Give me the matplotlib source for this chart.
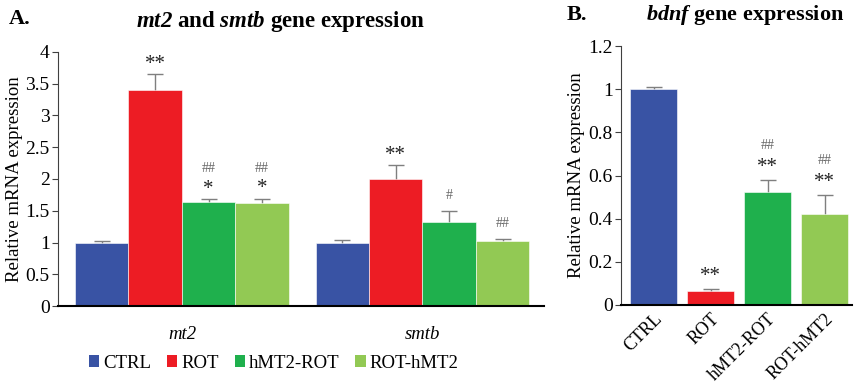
import matplotlib
matplotlib.use("Agg")
import matplotlib.pyplot as plt
import numpy as np
from matplotlib.patches import Patch
from matplotlib.ticker import FormatStrFormatter, MultipleLocator

plt.rcParams['font.family'] = ['Liberation Serif', 'DejaVu Serif']
plt.rcParams['mathtext.fontset'] = 'custom'
plt.rcParams['mathtext.rm'] = 'Liberation Serif'
plt.rcParams['mathtext.it'] = 'Liberation Serif:italic'
plt.rcParams['mathtext.bf'] = 'Liberation Serif:bold'
plt.rcParams['mathtext.bfit'] = 'Liberation Serif:italic:bold'

# ---- data ----
groups = ['CTRL', 'ROT', 'hMT2-ROT', 'ROT-hMT2']
genes_a = ['mt2', 'smtb']
mt2_vals = [1.00, 3.40, 1.64, 1.62]
mt2_err = [0.03, 0.25, 0.04, 0.07]
smtb_vals = [1.00, 2.00, 1.33, 1.02]
smtb_err = [0.04, 0.22, 0.17, 0.04]
mt2_star = ['', '**', '*', '*']
mt2_hash = ['', '', '##', '##']
smtb_star = ['', '**', '', '']
smtb_hash = ['', '', '#', '##']

bdnf_vals = [1.00, 0.065, 0.525, 0.423]
bdnf_err = [0.01, 0.007, 0.053, 0.086]
bdnf_star = ['', '**', '**', '**']
bdnf_hash = ['', '', '##', '##']

colors = ['#3953A4', '#ED1C24', '#1FB04D', '#92C954']
err_color = '#7f7f7f'

fig = plt.figure(figsize=(8.58, 3.87), dpi=100)
axA = fig.add_axes([0.0676, 0.209, 0.5664, 0.657])
axB = fig.add_axes([0.7238, 0.212, 0.2692, 0.669])

def style(ax):
    for s in ['top', 'right']:
        ax.spines[s].set_visible(False)
    ax.spines['left'].set_color('#404040')
    ax.spines['left'].set_linewidth(0.8)
    ax.spines['bottom'].set_color('black')
    ax.spines['bottom'].set_linewidth(1.5)
    ax.tick_params(axis='y', labelsize=14, length=4, width=0.8, color='#404040', pad=2)
    ax.tick_params(axis='x', length=0)
    ax.yaxis.set_major_formatter(FormatStrFormatter('%g'))

def annotate(ax, x, top, star, hsh, star_off, hash_only_off, hash_above):
    if star:
        ax.annotate(star, (x, top), xytext=(0, star_off), textcoords='offset points',
                    ha='center', va='center', fontsize=15, color='#222222')
        if hsh:
            ax.annotate(hsh, (x, top), xytext=(0, star_off + hash_above), textcoords='offset points',
                        ha='center', va='center', fontsize=10, color='#666666')
    elif hsh:
        ax.annotate(hsh, (x, top), xytext=(0, hash_only_off), textcoords='offset points',
                    ha='center', va='center', fontsize=10, color='#666666')

# ---- panel A ----
style(axA)
w = 0.222
xA = np.arange(len(genes_a))
for i in range(len(groups)):
    vals = [mt2_vals[i], smtb_vals[i]]
    errs = [mt2_err[i], smtb_err[i]]
    pos = xA + (i - 1.5) * w
    axA.bar(pos, vals, width=w, color=colors[i], edgecolor='white', linewidth=0.4, zorder=2)
    axA.errorbar(pos, vals, yerr=errs, fmt='none', ecolor=err_color,
                 elinewidth=1, capsize=5.5, capthick=1, zorder=1)
    tops = np.array(vals) + np.array(errs)
    annotate(axA, pos[0], tops[0], mt2_star[i], mt2_hash[i], 7, 11, 15)
    annotate(axA, pos[1], tops[1], smtb_star[i], smtb_hash[i], 7, 11, 15)

axA.set_xlim(-0.515, 1.505)
axA.set_ylim(0, 4)
axA.yaxis.set_major_locator(MultipleLocator(0.5))
axA.set_xticks(xA)
axA.set_xticklabels(genes_a, fontsize=13.5, style='italic')
axA.tick_params(axis='x', pad=14)
axA.set_ylabel('Relative mRNA expression', fontsize=13.5, labelpad=2)
fig.text(0.327, 0.945, r'$\mathbfit{mt2}$ and $\mathbfit{smtb}$ gene expression',
         ha='center', va='center', fontsize=16.5, fontweight='bold')
fig.text(0.010, 0.950, 'A.', ha='left', va='center', fontsize=16, fontweight='bold')

handles = [Patch(facecolor=c, edgecolor='none') for c in colors]
fig.legend(handles, groups, loc='center', bbox_to_anchor=(0.319, 0.062), ncol=4,
           frameon=False, fontsize=13.5, handlelength=0.55, handleheight=0.55,
           handletextpad=0.2, columnspacing=0.85)

# ---- panel B ----
style(axB)
xB = np.arange(len(groups))
wB = 0.82
axB.bar(xB, bdnf_vals, width=wB, color=colors, edgecolor='white', linewidth=0.4, zorder=2)
axB.errorbar(xB, bdnf_vals, yerr=bdnf_err, fmt='none',
             ecolor=err_color, elinewidth=1, capsize=5.5, capthick=1, zorder=1)
topsB = np.array(bdnf_vals) + np.array(bdnf_err)
for i in range(len(groups)):
    annotate(axB, xB[i], topsB[i], bdnf_star[i], bdnf_hash[i], 9, 11, 16)
axB.set_xlim(-0.57, 3.48)
axB.set_ylim(0, 1.2)
axB.yaxis.set_major_locator(MultipleLocator(0.2))
axB.set_xticks(xB)
axB.set_xticklabels(groups, fontsize=13, rotation=45, ha='right', rotation_mode='anchor')
axB.tick_params(axis='x', pad=4)
axB.set_ylabel('Relative mRNA expression', fontsize=13.5, labelpad=2)
fig.text(0.660, 0.960, 'B.', ha='left', va='center', fontsize=16, fontweight='bold')
fig.text(0.868, 0.960, r'$\mathbfit{bdnf}$ gene expression', ha='center', va='center',
         fontsize=16, fontweight='bold')

fig.savefig('out.png', dpi=100)
